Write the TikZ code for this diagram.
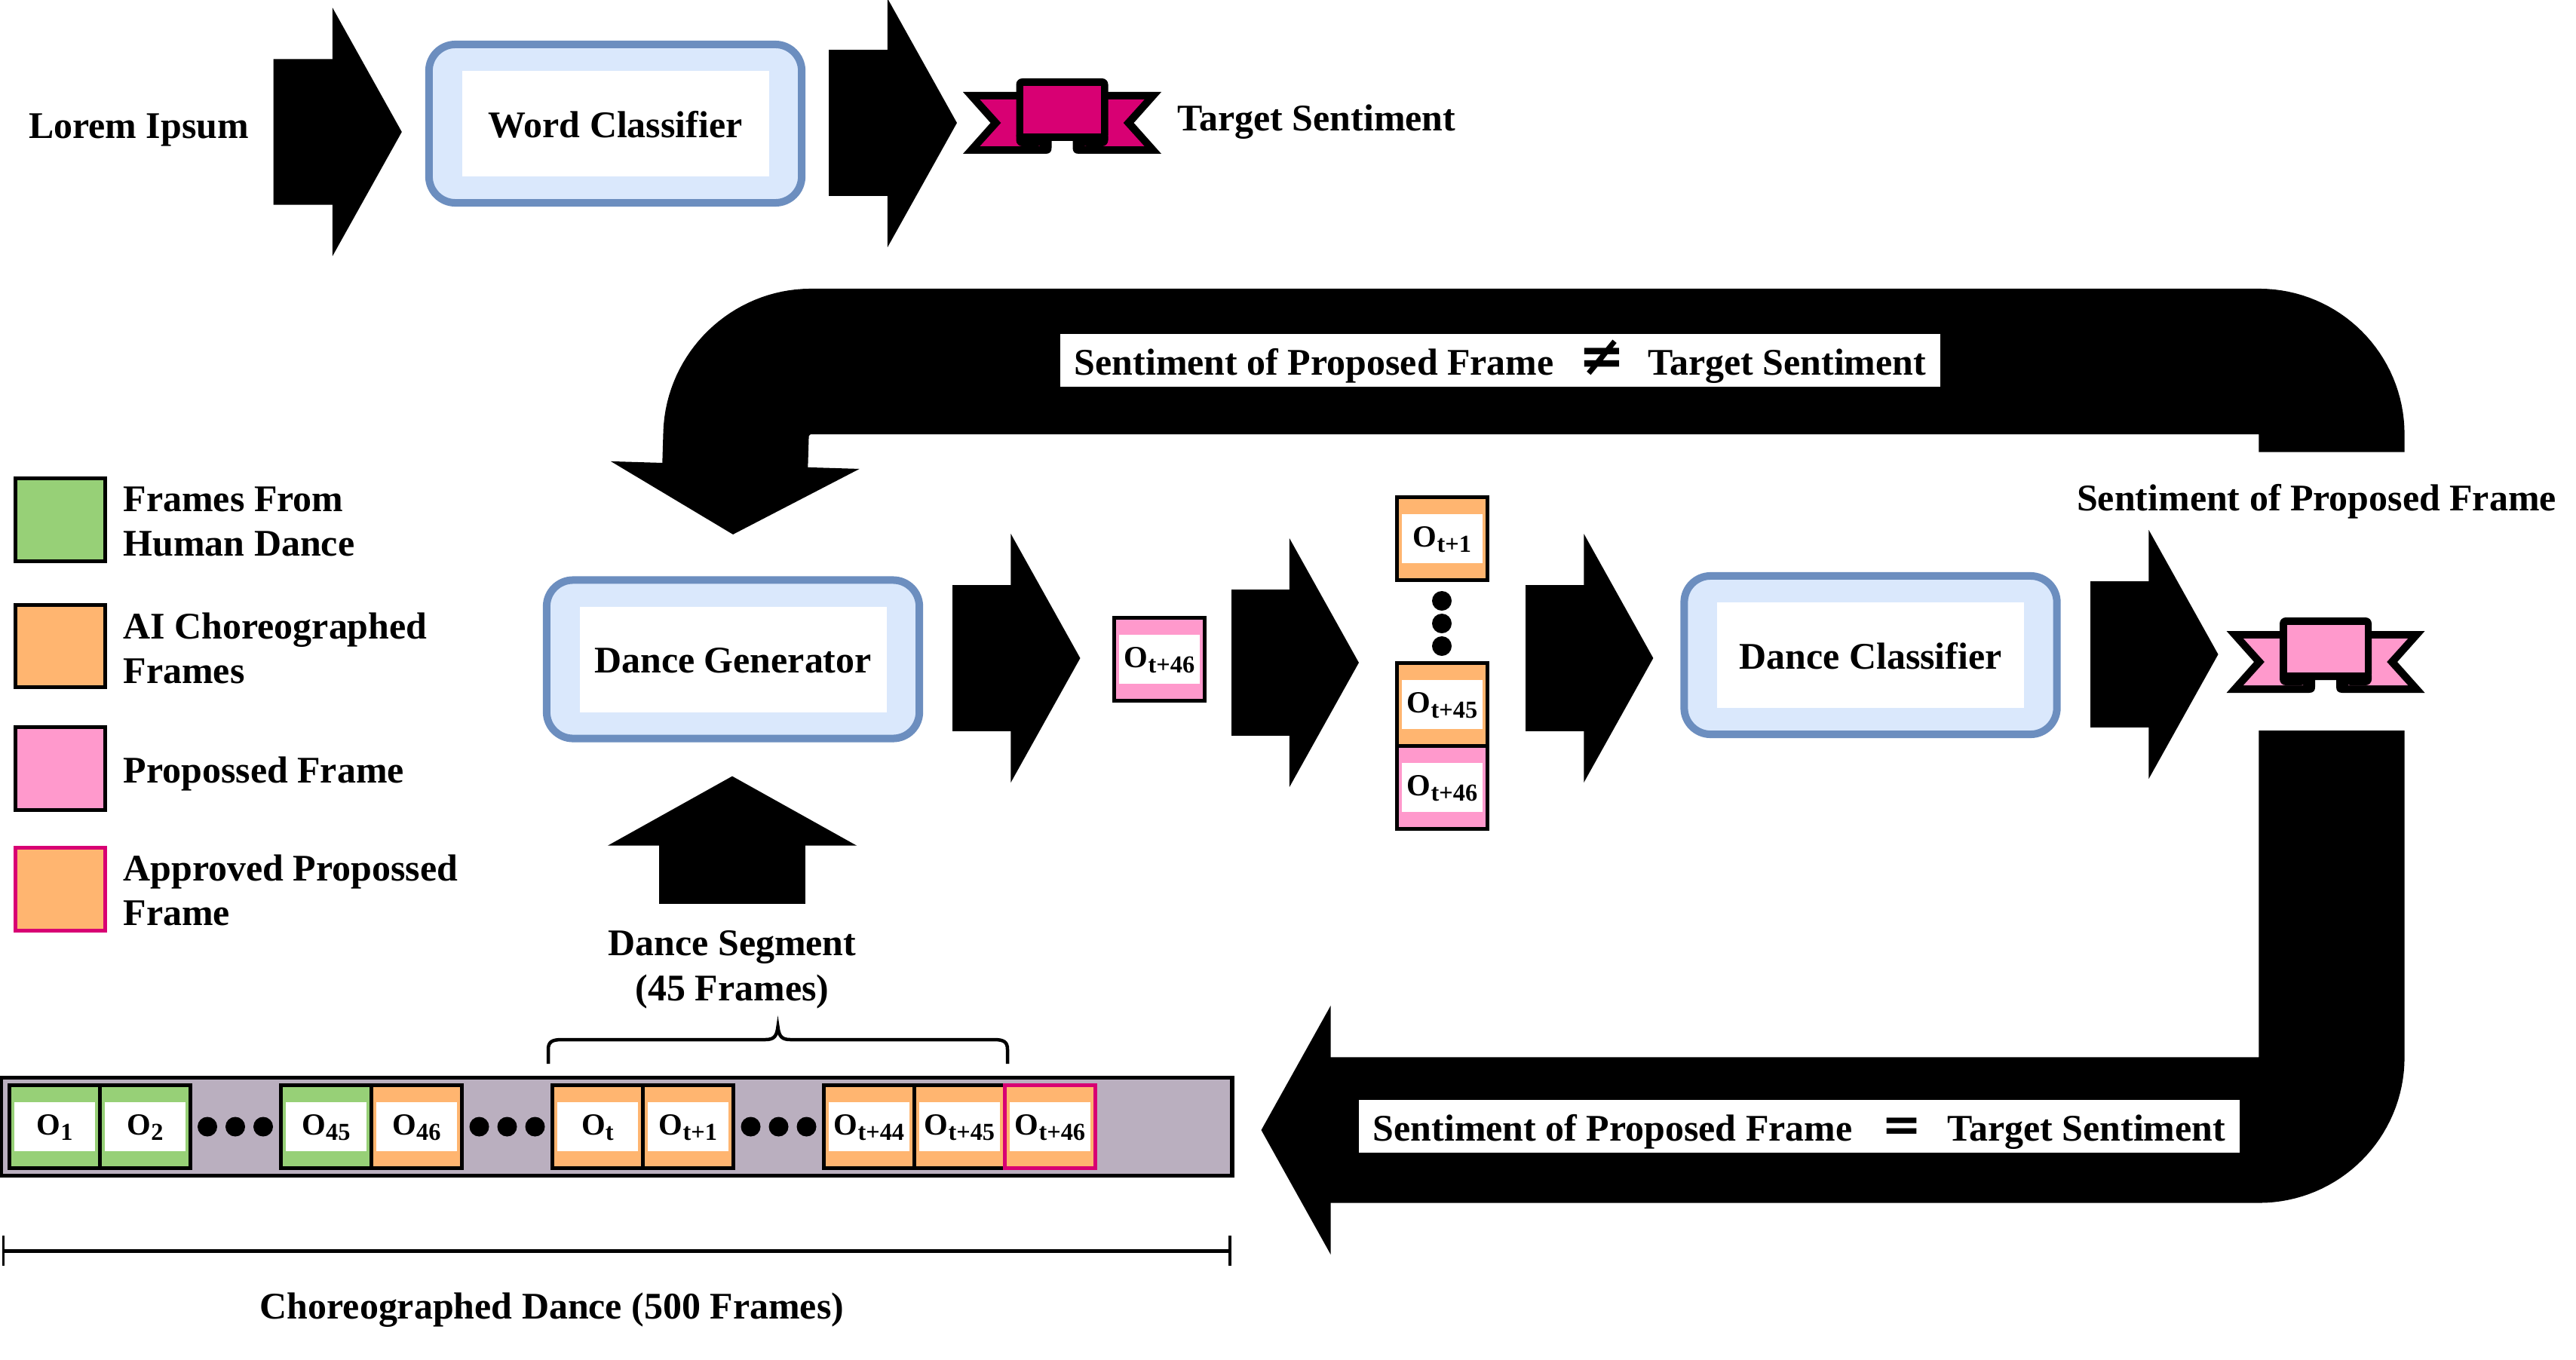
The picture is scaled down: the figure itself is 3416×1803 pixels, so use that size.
\documentclass[tikz,border=0pt]{standalone}
\usepackage{fontspec}
\setmainfont{Liberation Serif}
\newfontfamily\symfont{DejaVu Sans}
\usetikzlibrary{arrows.meta,calc}

\definecolor{stageline}{HTML}{6C8EBF}
\definecolor{stagefill}{HTML}{DAE8FC}
\definecolor{humangreen}{HTML}{97D077}
\definecolor{aiorange}{HTML}{FFB570}
\definecolor{softpink}{HTML}{FF99CC}
\definecolor{deeppink}{HTML}{D80073}
\definecolor{stripgrey}{HTML}{BAAFBF}

\newcommand{\obs}[1]{O\raisebox{-.075cm}{\fontsize{9.2}{9.2}\selectfont #1}}
\newcommand{\bigsym}[2]{{\symfont\bfseries\fontsize{#1}{17}\selectfont #2}}

\begin{document}
\begin{tikzpicture}[x=0.01cm,y=-0.01cm,
	txt/.style={font=\fontsize{14.2}{17}\selectfont\bfseries,inner sep=0pt,text height=.35cm,text depth=.10cm},
	plain/.style={font=\fontsize{14.2}{17}\selectfont\bfseries,inner sep=0pt,align=left},
	stage/.style={draw=stageline,fill=stagefill,line width=.10cm,rounded corners=.35cm,minimum width=4.94cm,minimum height=2.10cm,inner sep=0pt,
		font=\fontsize{14.2}{17}\selectfont\bfseries,text height=.53cm,text depth=.17cm,
		path picture={\fill[white,sharp corners] ([shift={(-203.5,-70)}]path picture bounding box.center) rectangle ([shift={(203.5,70)}]path picture bounding box.center);}},
	framebox/.style={draw=black,fill=#1,line width=.05cm,minimum width=1.20cm,minimum height=1.10cm,inner sep=0pt,
		font=\fontsize{11.6}{12}\selectfont\bfseries,text height=.30cm,text depth=.09cm,
		path picture={\fill[white] ([shift={(-53.5,-32.5)}]path picture bounding box.center) rectangle ([shift={(53.5,32.5)}]path picture bounding box.center);}},
	swatch/.style={draw=black,fill=#1,line width=.05cm,minimum width=1.19cm,minimum height=1.09cm,inner sep=0pt},
	tag/.style={fill=white,minimum width=11.67cm,minimum height=.70cm,inner sep=0pt,font=\fontsize{14.2}{17}\selectfont\bfseries,text height=.54cm,text depth=.16cm},
	flow/.style={line width=1.93cm,-{Triangle[length=.92cm,width=3.26cm]}},
	loopflow/.style={flow,rounded corners=.965cm},
	bracket/.style={line width=.045cm},
	spanline/.style={line width=.05cm,{Bar[width=.40cm,line width=.035cm]}-{Bar[width=.40cm,line width=.035cm]}},
	pics/ribbon/.style={code={
		\coordinate (-left) at (-131.5,0);
		\coordinate (-bottom) at (0,41);
		% Wings and feet
		\fill[black] (-131.5,-41) -- (-14,-41) -- (-14,33) .. controls (-14,38) and (-16,41) .. (-22,41) -- (-131.5,41) -- (-95,0) -- cycle;
		\fill[black] (131.5,-41) -- (14,-41) -- (14,33) .. controls (14,38) and (16,41) .. (22,41) -- (131.5,41) -- (95,0) -- cycle;
		\fill[#1] (-109,-31) -- (-30,-31) -- (-30,31) -- (-109,31) -- (-81,0) -- cycle;
		\fill[#1] (109,-31) -- (30,-31) -- (30,31) -- (109,31) -- (81,0) -- cycle;
		% Body
		\fill[black,rounded corners=.08cm] (-61,24) -- (-61,-59) -- (61,-59) -- (61,24) -- cycle;
		\fill[black,rounded corners=.08cm] (-61,10) -- (-61,31) -- (-25,31) -- (-25,10) -- cycle;
		\fill[black,rounded corners=.08cm] (61,10) -- (61,31) -- (25,31) -- (25,10) -- cycle;
		\fill[#1] (-51.5,-49) rectangle (51.5,14);
	}}]
		
		\useasboundingbox (0,0) rectangle (3416,1803);
		
		% Top row (word classifier)
		\node[txt,minimum width=2.90cm,anchor=base] (lorem) at (184,183) {Lorem Ipsum};
		\node[stage] (wordcls) at (816,164) {Word Classifier};
		\pic (ribtop) at (1408.5,163) {ribbon=deeppink};
		\node[txt,anchor=base west] (targettxt) at (1561,174) {Target Sentiment};
		\draw[flow] ($(lorem.east)+(32,4.5)$) -- ($(wordcls.west)+(-31,11)$);
		\draw[flow] ($(wordcls.east)+(31,-1)$) -- ($(ribtop-left)+(-8,0)$);
		
		% Legend
		\node[swatch=humangreen] (keyhuman) at (80,689.5) {};
		\node[swatch=aiorange] (keyai) at (80,857) {};
		\node[swatch=softpink] (keyprop) at (80,1019.5) {};
		\node[swatch=aiorange,draw=deeppink] (keyappr) at (80,1179.5) {};
		\node[plain,anchor=west] (txthuman) at (163,692) {Frames From\\Human Dance};
		\node[plain,anchor=west] (txtai) at (163,860) {AI Choreographed\\Frames};
		\node[plain,anchor=west] (txtprop) at (163,1026) {Propossed Frame};
		\node[plain,anchor=west] (txtappr) at (163,1181) {Approved Propossed\\Frame};
		
		% Middle row (generator to classifier)
		\node[stage] (gen) at (972,874.5) {Dance Generator};
		\node[framebox=softpink] (newframe) at (1537.5,874.5) {\obs{t+46}};
		\node[framebox=aiorange] (stacktop) at (1912.5,714.5) {\obs{t+1}};
		\node[framebox=aiorange] (stackmid) at (1912.5,934.5) {\obs{t+45}};
		\node[framebox=softpink] (stacklow) at (1912.5,1044.5) {\obs{t+46}};
		\fill (1912,797) circle (.13cm) (1912,827) circle (.13cm) (1912,857) circle (.13cm);
		\node[stage] (dancecls) at (2480.5,869) {Dance Classifier};
		\pic (ribside) at (3084,878) {ribbon=softpink};
		\node[txt,anchor=base] (sidetxt) at (3072,677) {Sentiment of Proposed Frame};
		\draw[flow] ($(gen.east)+(39,-1.5)$) -- ($(newframe.west)+(-42.5,-1.5)$);
		\draw[flow] ($(newframe.east)+(33,4.5)$) -- ($(stackmid.west)+(-48,-55.5)$);
		\draw[flow] ($(stackmid.east)+(47.5,-61.5)$) -- ($(dancecls.west)+(-36,4)$);
		\draw[flow] ($(dancecls.east)+(39.5,-1)$) -- ($(ribside-left)+(-11,-10)$);
		
		% Segment input
		\node[plain,align=center,anchor=north] (segtxt) at (971,1234) {Dance Segment\\(45 Frames)};
		\draw[flow] ($(segtxt.north)+(0,-35)$) -- ($(gen.south)+(-1,45)$);
		\draw[bracket] (727,1411) -- (727,1392) .. controls (727,1382) and (732,1379) .. (745,1379) -- (1015,1379) .. controls (1026,1379) and (1030,1375) .. (1031.5,1362) .. controls (1033,1375) and (1037,1379) .. (1048,1379) -- (1318,1379) .. controls (1331,1379) and (1336,1382) .. (1336,1392) -- (1336,1411);
		
		% Dance strip
		\node[draw=black,fill=stripgrey,line width=.05cm,minimum width=16.32cm,minimum height=1.30cm,inner sep=0pt] (strip) at (817.5,1494.5) {};
		\node[framebox=humangreen] (o1) at (72.5,1494.5) {\obs{1}};
		\node[framebox=humangreen] (o2) at (192.5,1494.5) {\obs{2}};
		\fill (275,1494.5) circle (.13cm) (312,1494.5) circle (.13cm) (349,1494.5) circle (.13cm);
		\node[framebox=humangreen] (o45) at (432.5,1494.5) {\obs{45}};
		\node[framebox=aiorange] (o46) at (552.5,1494.5) {\obs{46}};
		\fill (635.5,1494.5) circle (.13cm) (672.5,1494.5) circle (.13cm) (709.5,1494.5) circle (.13cm);
		\node[framebox=aiorange] (ot) at (792.5,1494.5) {\obs{t}};
		\node[framebox=aiorange] (ot1) at (912.5,1494.5) {\obs{t+1}};
		\fill (995.5,1494.5) circle (.13cm) (1032.5,1494.5) circle (.13cm) (1069.5,1494.5) circle (.13cm);
		\node[framebox=aiorange] (ot44) at (1152.5,1494.5) {\obs{t+44}};
		\node[framebox=aiorange] (ot45) at (1272.5,1494.5) {\obs{t+45}};
		\node[framebox=aiorange,draw=deeppink] (ot46) at (1392.5,1494.5) {\obs{t+46}};
		
		% Length of the dance
		\draw[spanline] ($(strip.south west)+(4,97)$) -- ($(strip.south east)+(-4,97)$);
		\node[txt,anchor=base] (lengthtxt) at (732,1749) {Choreographed Dance (500 Frames)};
		
		% Feedback, sentiments differ
		\coordinate (loopright) at (3092,479.5);
		\coordinate (loopleft) at (979,479.5);
		\draw[loopflow] ($(sidetxt.south)+(20,-88)$) -- (loopright) -- (loopleft) -- ($(gen.north)+(0,-55.5)$);
		\node[tag] (neqtag) at (1989.5,478) {Sentiment of Proposed Frame\hspace{.33cm}\bigsym{21}{≠}\hspace{.30cm}Target Sentiment};
		
		% Feedback, sentiments match
		\coordinate (loopbottom) at (3092,1499);
		\draw[loopflow] ($(ribside-bottom)+(8,50)$) -- (loopbottom) -- ($(strip.east)+(36,4.5)$);
		\node[tag] (eqtag) at (2386,1494) {Sentiment of Proposed Frame\hspace{.39cm}\bigsym{18}{=}\hspace{.34cm}Target Sentiment};
	\end{tikzpicture}
\end{document}
